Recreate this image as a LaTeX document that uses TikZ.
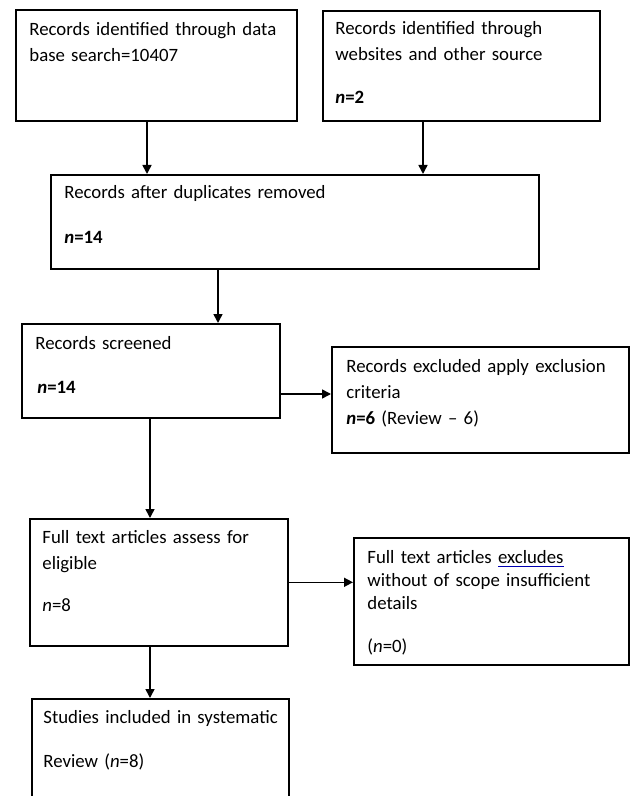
\documentclass[tikz,border=0pt]{standalone}
\usepackage{fontspec}
\setmainfont{Carlito}
\usetikzlibrary{arrows.meta}

\tikzset{
  box/.style={draw, line width=0.8pt, anchor=north west, inner sep=0pt},
  txt/.style={anchor=base west, inner sep=0pt, text width=150pt, align=left},
  arr/.style={line width=0.8pt, -{Triangle[length=4.5pt,width=4.5pt]}}
}

\begin{document}
\begin{tikzpicture}[x=0.5pt,y=-0.5pt,font=\fontsize{9.4}{13}\selectfont]
\useasboundingbox (0,0) rectangle (630,796);

% boxes
\node[box, minimum width=140.5pt, minimum height=55.5pt] (dbase) at (15,9) {};
\node[box, minimum width=138.5pt, minimum height=55pt] (web) at (322,10) {};
\node[box, minimum width=244pt, minimum height=47pt] (dupl) at (50,174) {};
\node[box, minimum width=129pt, minimum height=47pt] (screen) at (21,323) {};
\node[box, minimum width=148.5pt, minimum height=53pt] (excl) at (331,346) {};
\node[box, minimum width=129pt, minimum height=63.5pt] (full) at (29,518) {};
\node[box, minimum width=137.5pt, minimum height=63.5pt] (fexcl) at (353,537) {};
\node[box, minimum width=128.5pt, minimum height=61pt] (incl) at (31,698) {};

% labels
\node[txt] (dbaseT) at (29,36) {Records identified through data\\base search=10407};
\node[txt] (webT) at (335,35) {Records identified through\\websites and other source\\[8.5pt]\textbf{\textit{n}=2}};
\node[txt] (duplT) at (64,199) {Records after duplicates removed\\[9.5pt]\textbf{\textit{n}=14}};
\node[txt] (screenT) at (35,349) {Records screened\\[9pt]\hspace{1pt}\textbf{\textit{n}=14}};
\node[txt] (exclT) at (346,372) {Records excluded apply exclusion\\criteria\\\textbf{\textit{n}=6} (Review -- 6)};
\node[txt] (fullT) at (42,543) {Full text articles assess for\\eligible\\[8pt]\textit{n}=8};
\node[txt, font=\fontsize{9.4}{11.5}\selectfont] (fexclT) at (367,563) {Full text articles {\color{blue!70!black}\underline{\color{black}excludes}}\\without of scope insufficient\\details\\[10pt](\textit{n}=0)};
\node[txt] (inclT) at (43,723) {Studies included in systematic\\[9pt]Review (\textit{n}=8)};

% arrow lines
\node[coordinate] (x1) at (147,0) {};
\node[coordinate] (x2) at (423,0) {};
\node[coordinate] (x3) at (218,0) {};
\node[coordinate] (x4) at (150,0) {};
\node[coordinate] (y1) at (0,394) {};

\draw[arr] (dbase.south -| x1) -- (dupl.north -| x1);
\draw[arr] (web.south -| x2) -- (dupl.north -| x2);
\draw[arr] (dupl.south -| x3) -- (screen.north -| x3);
\draw[arr] (screen.east |- y1) -- (excl.west |- y1);
\draw[arr] (screen.south -| x4) -- (full.north -| x4);
\draw[arr] (full.east) -- (full.east -| fexcl.west);
\draw[arr] (full.south -| x4) -- (incl.north -| x4);
\end{tikzpicture}
\end{document}
